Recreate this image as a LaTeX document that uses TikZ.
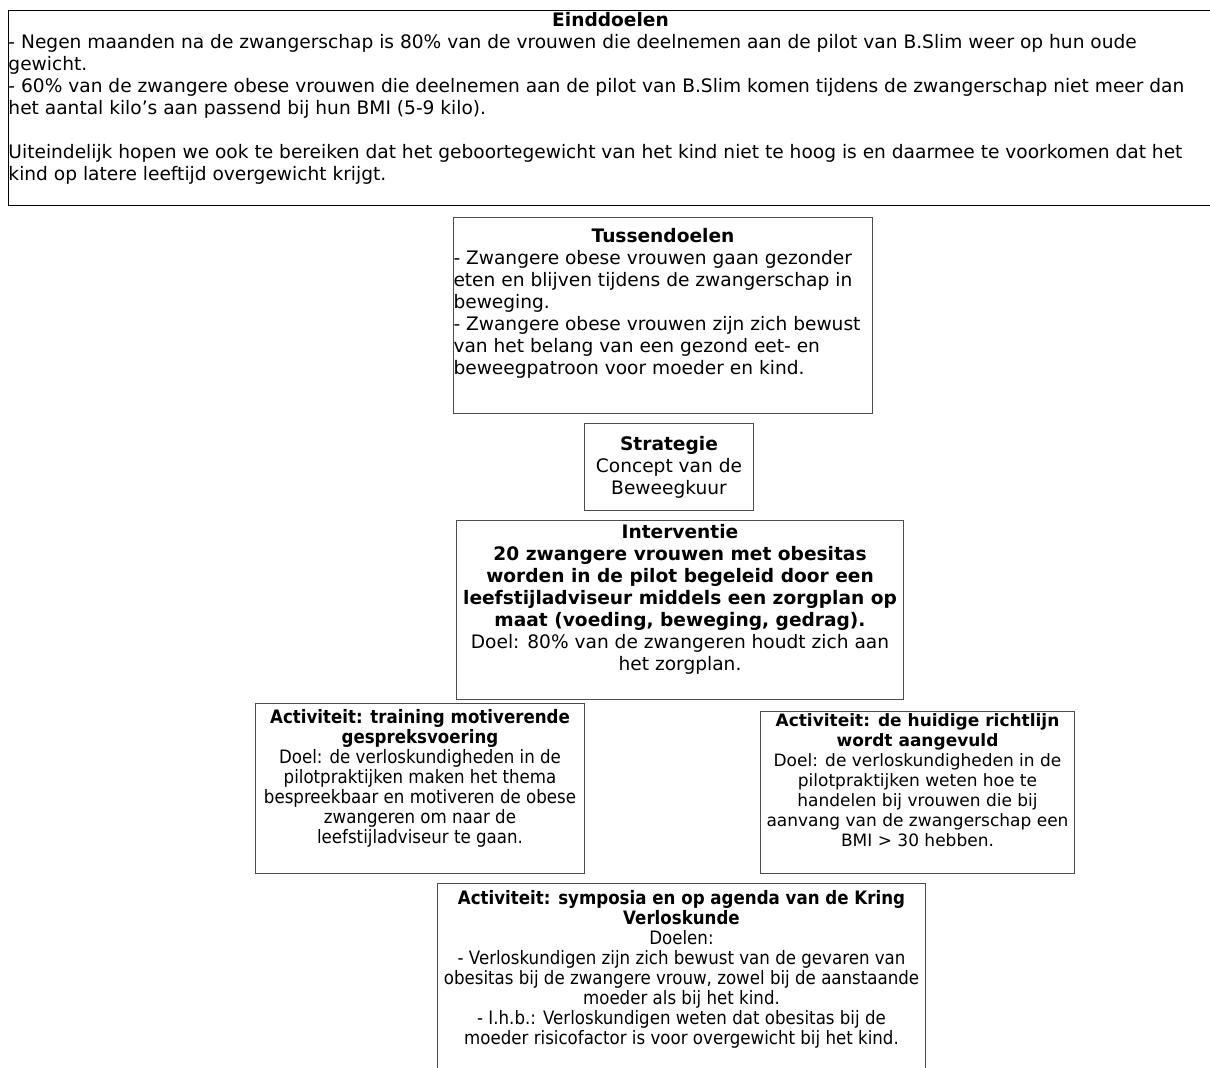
\documentclass[tikz,border=0pt]{standalone}
\usepackage{fontspec}
\setmainfont{DejaVu Sans}
\newfontfamily\narrowfont[FakeStretch=0.9]{DejaVu Sans}
\usetikzlibrary{positioning}

% box text: width, height, top padding, content
\newcommand\boxtxt[4]{\parbox[t][#2][t]{#1}{\vspace*{#3}#4}}

\begin{document}
\begin{tikzpicture}[x=1pt,y=-1pt,box/.style={draw=black!70,line width=1pt,inner sep=0pt,anchor=north west},big/.style={font=\fontsize{18.6}{22}\selectfont},mid/.style={font=\fontsize{17}{20}\selectfont},slim/.style={font=\narrowfont\fontsize{18.5}{20}\selectfont}]
\useasboundingbox (0,0) rectangle (1210,1068);
\clip (0,0) rectangle (1210,1068);
\node[box,big,draw=black](eind) at (8,10){\boxtxt{1204pt}{195pt}{2pt}{{\centering\textbf{Einddoelen}\par}\raggedright
- Negen maanden na de zwangerschap is 80\% van de vrouwen die deelnemen aan de pilot van B.Slim weer op hun oude\\
gewicht.\\
- 60\% van de zwangere obese vrouwen die deelnemen aan de pilot van B.Slim komen tijdens de zwangerschap niet meer dan\\
het aantal kilo’s aan passend bij hun BMI (5-9 kilo).\\[22pt]
Uiteindelijk hopen we ook te bereiken dat het geboortegewicht van het kind niet te hoog is en daarmee te voorkomen dat het\\
kind op latere leeftijd overgewicht krijgt.}};
\node[box,big](tuss) at (453,217){\boxtxt{419pt}{196pt}{10.5pt}{{\centering\textbf{Tussendoelen}\par}\raggedright
- Zwangere obese vrouwen gaan gezonder\\
eten en blijven tijdens de zwangerschap in\\
beweging.\\
- Zwangere obese vrouwen zijn zich bewust\\
van het belang van een gezond eet- en\\
beweegpatroon voor moeder en kind.}};
\node[box,big](strat) at (584,423){\boxtxt{169pt}{87pt}{13pt}{\centering\textbf{Strategie}\\
Concept van de\\
Beweegkuur}};
\node[box,big](interv) at (456,520){\boxtxt{447pt}{179pt}{4pt}{\centering\textbf{Interventie}\\
\textbf{20 zwangere vrouwen met obesitas}\\
\textbf{worden in de pilot begeleid door een}\\
\textbf{leefstijladviseur middels een zorgplan op}\\
\textbf{maat (voeding, beweging, gedrag).}\\
Doel: 80\% van de zwangeren houdt zich aan\\
het zorgplan.}};
\node[box,slim](train) at (255,703){\boxtxt{329pt}{170pt}{6pt}{\centering\textbf{Activiteit: training motiverende}\\
\textbf{gespreksvoering}\\
Doel: de verloskundigheden in de\\
pilotpraktijken maken het thema\\
bespreekbaar en motiveren de obese\\
zwangeren om naar de\\
leefstijladviseur te gaan.}};
\node[box,mid](richt) at (760,711){\boxtxt{314pt}{162pt}{2.5pt}{\centering\textbf{Activiteit: de huidige richtlijn}\\
\textbf{wordt aangevuld}\\
Doel: de verloskundigheden in de\\
pilotpraktijken weten hoe te\\
handelen bij vrouwen die bij\\
aanvang van de zwangerschap een\\
BMI > 30 hebben.}};
\node[box,slim](symp) at (437,883){\boxtxt{488pt}{200pt}{7pt}{\centering\textbf{Activiteit: symposia en op agenda van de Kring}\\
\textbf{Verloskunde}\\
Doelen:\\
- Verloskundigen zijn zich bewust van de gevaren van\\
obesitas bij de zwangere vrouw, zowel bij de aanstaande\\
moeder als bij het kind.\\
- I.h.b.: Verloskundigen weten dat obesitas bij de\\
moeder risicofactor is voor overgewicht bij het kind.}};
\end{tikzpicture}
\end{document}
